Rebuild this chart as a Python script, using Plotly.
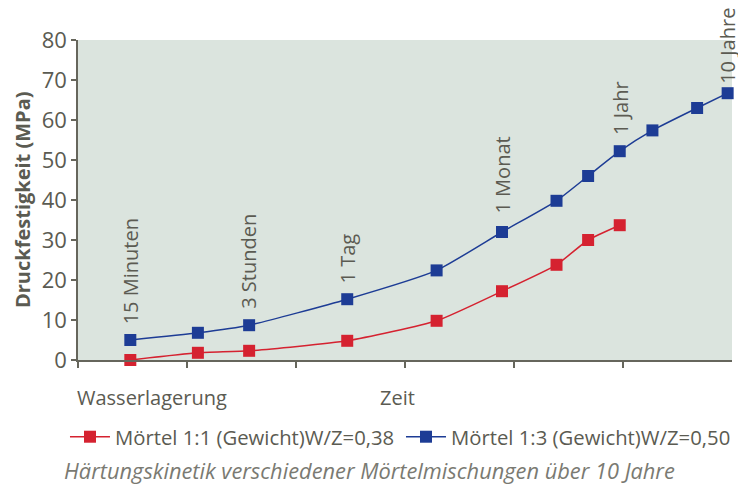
import plotly.graph_objects as go

# x positions on the (log-like) time axis, 0..6 divisions
x_blue = [0.48, 1.10, 1.57, 2.47, 3.29, 3.89, 4.39, 4.68, 4.97, 5.27, 5.68, 5.96]
y_blue = [5.0, 6.8, 8.7, 15.2, 22.4, 32.0, 39.8, 46.0, 52.2, 57.4, 63.0, 66.7]
x_red = [0.48, 1.10, 1.57, 2.47, 3.29, 3.89, 4.39, 4.68, 4.97]
y_red = [0.0, 1.8, 2.3, 4.8, 9.8, 17.2, 23.8, 30.0, 33.7]

time_labels = ["15 Minuten", "3 Stunden", "1 Tag", "1 Monat", "1 Jahr", "10 Jahre"]
time_label_idx = [0, 2, 3, 5, 8, 11]

name_red = "Mörtel 1:1 (Gewicht)W/Z=0,38"
name_blue = "Mörtel 1:3 (Gewicht)W/Z=0,50"

RED = "#d52230"
BLUE = "#1d3c95"
GREY = "#5b5b52"
AXIS = "#66665c"
FONT = "Open Sans"

fig = go.Figure()

fig.add_trace(
    go.Scatter(
        x=x_red, y=y_red, mode="lines+markers", name=name_red, legend="legend",
        line=dict(color=RED, width=1.5, shape="spline", smoothing=0.5),
        marker=dict(symbol="square", size=12, color=RED),
        cliponaxis=False,
    )
)
fig.add_trace(
    go.Scatter(
        x=x_blue, y=y_blue, mode="lines+markers", name=name_blue, legend="legend2",
        line=dict(color=BLUE, width=1.5, shape="spline", smoothing=0.5),
        marker=dict(symbol="square", size=12, color=BLUE),
        cliponaxis=False,
    )
)

label_shift = [14, 14, 14, 16, 14, 7]
for lbl, i, s in zip(time_labels, time_label_idx, label_shift):
    fig.add_annotation(
        x=x_blue[i], y=y_blue[i], text=lbl, textangle=-90,
        showarrow=False, xanchor="center", yanchor="bottom", yshift=s,
        font=dict(family=FONT, size=20, color=GREY),
    )

fig.add_annotation(x=-0.0856, y=0.5, xref="paper", yref="paper",
                   text="<b>Druckfestigkeit (MPa)</b>", textangle=-90,
                   showarrow=False, xanchor="center", yanchor="middle",
                   font=dict(family=FONT, size=20, color=GREY))
fig.add_annotation(x=-0.004, y=-0.07, xref="paper", yref="paper", text="Wasserlagerung",
                   showarrow=False, xanchor="left", yanchor="top",
                   font=dict(family=FONT, size=20, color=GREY))
fig.add_annotation(x=0.458, y=-0.07, xref="paper", yref="paper", text="Zeit",
                   showarrow=False, xanchor="left", yanchor="top",
                   font=dict(family=FONT, size=20, color=GREY))
fig.add_annotation(x=-0.025, y=-0.344, xref="paper", yref="paper",
                   text="<i>Härtungskinetik verschiedener Mörtelmischungen über 10 Jahre</i>",
                   showarrow=False, xanchor="left", yanchor="middle",
                   font=dict(family=FONT, size=21.8, color="#7a7a72"))

legend_style = dict(xref="container", yref="container", y=0.0987,
                    xanchor="left", yanchor="middle",
                    font=dict(family=FONT, size=20.3, color=GREY),
                    itemwidth=40, bgcolor="rgba(0,0,0,0)")

fig.update_layout(
    width=738, height=476,
    margin=dict(l=70, r=14, t=32, b=124, autoexpand=False),
    paper_bgcolor="white",
    plot_bgcolor="#dbe4de",
    font=dict(family=FONT, size=20, color=GREY),
    showlegend=True,
    legend=dict(x=0.0772, **legend_style),
    legend2=dict(x=0.5325, **legend_style),
    xaxis=dict(range=[0, 6], tickvals=[0, 1, 2, 3, 4, 5], showticklabels=False,
               ticks="outside", ticklen=6, tickcolor=AXIS, tickwidth=1.5,
               showgrid=False, zeroline=False, showline=True, automargin=False,
               linecolor=AXIS, linewidth=1.5, fixedrange=True),
    yaxis=dict(range=[0, 80], dtick=10, ticks="outside", ticklen=5,
               tickcolor=AXIS, tickwidth=1.5, showgrid=False, zeroline=False,
               showline=True, linecolor=AXIS, linewidth=1.5, automargin=False,
               tickfont=dict(family=FONT, size=22, color=GREY),
               fixedrange=True),
)

fig.write_html("out.html")
